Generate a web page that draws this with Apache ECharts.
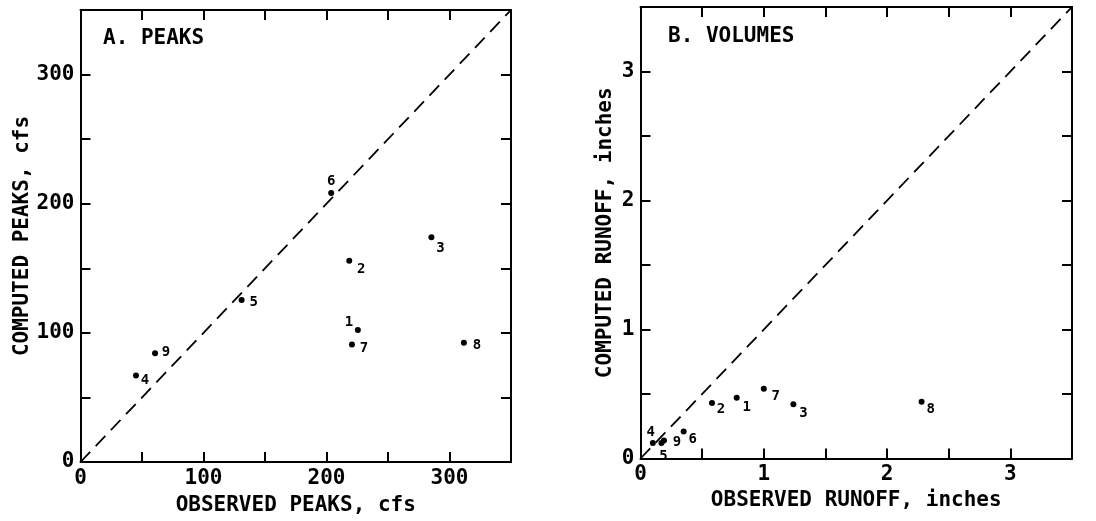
<!DOCTYPE html>
<html>
<head>
<meta charset="utf-8">
<script src="https://cdn.jsdelivr.net/npm/echarts@6/dist/echarts.min.js"></script>
<style>html,body{margin:0;padding:0;background:#fff}#c{width:1096px;height:521px}</style>
</head>
<body>
<div id="c"></div>
<script>
// ---- data ----
const pointIds = ['1','2','3','4','5','6','7','8','9'];
const peaksObserved = [225.5, 218.5, 285.3, 45.1, 131, 203.8, 220.7, 311.7, 60.6];
const peaksComputed = [102.3, 155.9, 174, 67, 125.5, 208.2, 91, 92.3, 84.3];
const runoffObserved = [0.78, 0.58, 1.24, 0.10, 0.17, 0.35, 1.00, 2.28, 0.19];
const runoffComputed = [0.47, 0.43, 0.42, 0.12, 0.12, 0.21, 0.54, 0.44, 0.14];
const peakTickLabels = [0, 100, 200, 300];
const runoffTickLabels = [0, 1, 2, 3];
const peaksRange = [0, 350];
const runoffRange = [0, 3.5];

// ---- style (label offsets in px) ----
const peakLabelOffsets = [[-9,-8],[12,9],[9,11],[9,5],[12,2],[0,-12],[12,4],[13,3],[11,-1]];
const runoffLabelOffsets = [[10,9],[9,6],[10,9],[-2,-11],[2,13],[9,8],[12,8],[9,8],[13,2]];

const FONT = "'DejaVu Sans Mono', monospace";
const FS = 21;
const black = '#000';

function axisCommon(extra) {
  return Object.assign({
    type: 'value',
    axisLine: { show: true, onZero: false, lineStyle: { color: black, width: 2 } },
    axisTick: { show: true, inside: true, length: 10, lineStyle: { color: black, width: 2 } },
    splitLine: { show: false },
    nameTextStyle: { fontFamily: FONT, fontSize: FS, fontWeight: 'bold', color: black },
  }, extra);
}
function labelFmt(list) {
  return { show: true, fontFamily: FONT, fontSize: FS, fontWeight: 'bold', color: black, margin: 6,
    formatter: v => (list.some(t => Math.abs(t - v) < 1e-9) ? String(v) : '') };
}

function scatterData(xs, ys, offs) {
  return xs.map((x, i) => ({ value: [x, ys[i]], name: pointIds[i],
    label: { offset: offs[i] } }));
}

const pointLabel = { show: true, position: 'inside', formatter: '{b}', fontFamily: FONT, fontSize: 14, fontWeight: 'bold', color: black, opacity: 1 };

const option = {
  animation: false,
  backgroundColor: '#fff',
  grid: [
    { left: 80.5, right: 585, top: 10, bottom: 59, show: false },
    { left: 640.5, right: 24, top: 7, bottom: 62.5, show: false }
  ],
  xAxis: [
    axisCommon({ gridIndex: 0, position: 'bottom', min: peaksRange[0], max: peaksRange[1], interval: 50,
      axisLabel: labelFmt(peakTickLabels), name: 'OBSERVED PEAKS, cfs', nameLocation: 'middle', nameGap: 33 }),
    axisCommon({ gridIndex: 0, position: 'top', min: peaksRange[0], max: peaksRange[1], interval: 50,
      axisLabel: { show: false } }),
    axisCommon({ gridIndex: 1, position: 'bottom', min: runoffRange[0], max: runoffRange[1], interval: 0.5,
      axisLabel: labelFmt(runoffTickLabels), name: 'OBSERVED RUNOFF, inches', nameLocation: 'middle', nameGap: 31 }),
    axisCommon({ gridIndex: 1, position: 'top', min: runoffRange[0], max: runoffRange[1], interval: 0.5,
      axisLabel: { show: false } })
  ],
  yAxis: [
    axisCommon({ gridIndex: 0, position: 'left', min: peaksRange[0], max: peaksRange[1], interval: 50,
      axisLabel: labelFmt(peakTickLabels), name: 'COMPUTED PEAKS, cfs', nameLocation: 'middle', nameGap: 46 }),
    axisCommon({ gridIndex: 0, position: 'right', min: peaksRange[0], max: peaksRange[1], interval: 50,
      axisLabel: { show: false } }),
    axisCommon({ gridIndex: 1, position: 'left', min: runoffRange[0], max: runoffRange[1], interval: 0.5,
      axisLabel: labelFmt(runoffTickLabels), name: 'COMPUTED RUNOFF, inches', nameLocation: 'middle', nameGap: 24 }),
    axisCommon({ gridIndex: 1, position: 'right', min: runoffRange[0], max: runoffRange[1], interval: 0.5,
      axisLabel: { show: false } })
  ],
  graphic: [
    { type: 'text', left: 103, top: 28, style: { text: 'A. PEAKS', fontFamily: FONT, fontSize: FS, fontWeight: 'bold', fill: black } },
    { type: 'text', left: 668, top: 26, style: { text: 'B. VOLUMES', fontFamily: FONT, fontSize: FS, fontWeight: 'bold', fill: black } }
  ],
  series: [
    { type: 'line', xAxisIndex: 0, yAxisIndex: 0, data: [[peaksRange[0], peaksRange[0]], [peaksRange[1], peaksRange[1]]],
      symbol: 'none', lineStyle: { color: black, width: 1.8, type: [14, 8] }, silent: true },
    { type: 'line', xAxisIndex: 2, yAxisIndex: 2, data: [[runoffRange[0], runoffRange[0]], [runoffRange[1], runoffRange[1]]],
      symbol: 'none', lineStyle: { color: black, width: 1.8, type: [14, 8] }, silent: true },
    { type: 'scatter', xAxisIndex: 0, yAxisIndex: 0, symbolSize: 6, itemStyle: { color: black, opacity: 1 },
      data: scatterData(peaksObserved, peaksComputed, peakLabelOffsets), label: pointLabel },
    { type: 'scatter', xAxisIndex: 2, yAxisIndex: 2, symbolSize: 6, itemStyle: { color: black, opacity: 1 },
      data: scatterData(runoffObserved, runoffComputed, runoffLabelOffsets), label: pointLabel }
  ]
};
const chart = echarts.init(document.getElementById('c'), null, { renderer: 'canvas' });
chart.setOption(option);
</script>
</body>
</html>
